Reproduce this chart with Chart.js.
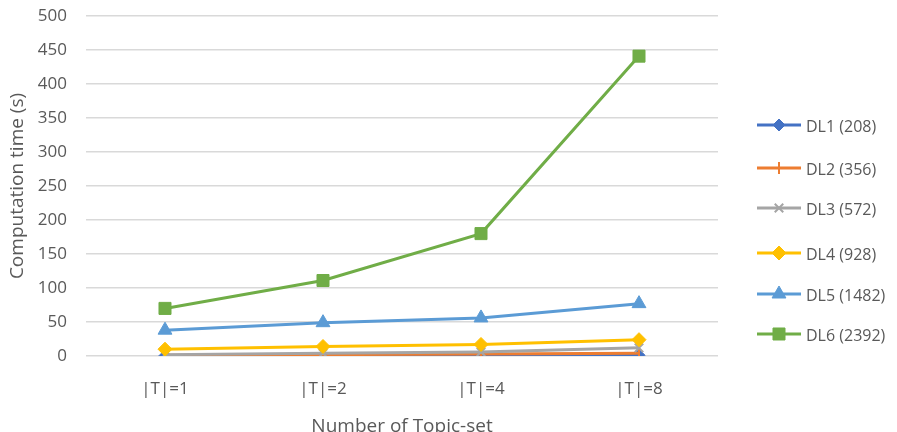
<!DOCTYPE html>
<html>
<head>
<meta charset="utf-8">
<script src="https://cdn.jsdelivr.net/npm/chart.js@4/dist/chart.umd.min.js"></script>
<style>
    html, body { margin: 0; padding: 0; background: #fff; }
    #wrap { width: 897px; height: 432px; }
</style>
</head>
<body>
<div id="wrap"><canvas id="chart"></canvas></div>
<script>
// Données
const categories = ['|T|=1', '|T|=2', '|T|=4', '|T|=8'];
const seriesNames = ['DL1 (208)', 'DL2 (356)', 'DL3 (572)', 'DL4 (928)', 'DL5 (1482)', 'DL6 (2392)'];
const dl1 = [0.5, 0.7, 0.9, 1.1];
const dl2 = [1, 2, 3, 4];
const dl3 = [2, 4, 6, 12];
const dl4 = [10, 14, 17, 24];
const dl5 = [38, 49, 56, 77];
const dl6 = [70, 111, 180, 441];
const yTicks = [0, 50, 100, 150, 200, 250, 300, 350, 400, 450, 500];

const colors = ['#4472C4', '#ED7D31', '#A5A5A5', '#FFC000', '#5B9BD5', '#70AD47'];
const markers = ['rectRot', 'line', 'crossRot', 'rectRot', 'triangle', 'rect'];
const radii = [6, 6, 6, 7, 8, 8.5];
const values = [dl1, dl2, dl3, dl4, dl5, dl6];

const FONT = "'Open Sans', 'Liberation Sans', sans-serif";
const TEXT = '#595959';

const datasets = values.map((data, i) => ({
    label: seriesNames[i],
    data,
    borderColor: colors[i],
    backgroundColor: colors[i],
    borderWidth: 3,
    pointStyle: markers[i],
    pointRadius: radii[i],
    pointRotation: markers[i] === 'line' ? 90 : 0,
    pointBorderWidth: markers[i] === 'line' || markers[i] === 'crossRot' ? 2 : 1,
    order: 6 - i
}));

// Légende dessinée à la main (espacement irrégulier comme l'original)
const legendRows = [125, 168, 208, 253, 294, 334];
const sideLegend = {
    id: 'sideLegend',
    afterDraw: (chart) => {
        const { ctx } = chart;
        ctx.save();
        datasets.forEach((ds, i) => {
            const y = legendRows[i];
            ctx.strokeStyle = ds.borderColor;
            ctx.lineWidth = 3;
            ctx.beginPath();
            ctx.moveTo(757, y);
            ctx.lineTo(801, y);
            ctx.stroke();
            ctx.fillStyle = ds.backgroundColor;
            ctx.lineWidth = ds.pointBorderWidth;
            Chart.helpers.drawPoint(ctx, {
                pointStyle: ds.pointStyle,
                rotation: ds.pointRotation,
                radius: ds.pointRadius,
                borderWidth: ds.pointBorderWidth
            }, 779, y);
            ctx.fillStyle = TEXT;
            ctx.font = `16px ${FONT}`;
            ctx.textBaseline = 'middle';
            ctx.fillText(ds.label, 806, y + 2);
        });
        ctx.restore();
    }
};

new Chart(document.getElementById('chart'), {
    type: 'line',
    plugins: [sideLegend],
    data: { labels: categories, datasets },
    options: {
        responsive: true,
        maintainAspectRatio: false,
        animation: false,
        layout: { padding: { left: 0, right: 179, top: 16, bottom: 0 } },
        plugins: {
            legend: { display: false },
            tooltip: { enabled: false }
        },
        scales: {
            x: {
                offset: true,
                grid: { display: false },
                border: { display: false },
                ticks: { color: TEXT, font: { family: FONT, size: 17 }, padding: 15 },
                title: {
                    display: true,
                    text: 'Number of Topic-set',
                    color: TEXT,
                    font: { family: FONT, size: 19 },
                    padding: { top: 0, bottom: -6 }
                },
                afterFit: (scale) => { scale.height = 76; scale.paddingLeft = 0; scale.paddingRight = 0; }
            },
            y: {
                min: 0,
                max: 500,
                afterBuildTicks: (scale) => { scale.ticks = yTicks.map(v => ({ value: v })); },
                grid: { color: '#D9D9D9', lineWidth: 1.5, drawTicks: false },
                border: { display: false },
                ticks: { color: TEXT, font: { family: FONT, size: 17 }, padding: 19 },
                title: {
                    display: true,
                    text: 'Computation time (s)',
                    color: TEXT,
                    font: { family: FONT, size: 19 },
                    padding: { top: 6, bottom: 0 }
                },
                afterFit: (scale) => { scale.width = 86; scale.paddingTop = 0; scale.paddingBottom = 0; }
            }
        }
    }
});
</script>
</body>
</html>
